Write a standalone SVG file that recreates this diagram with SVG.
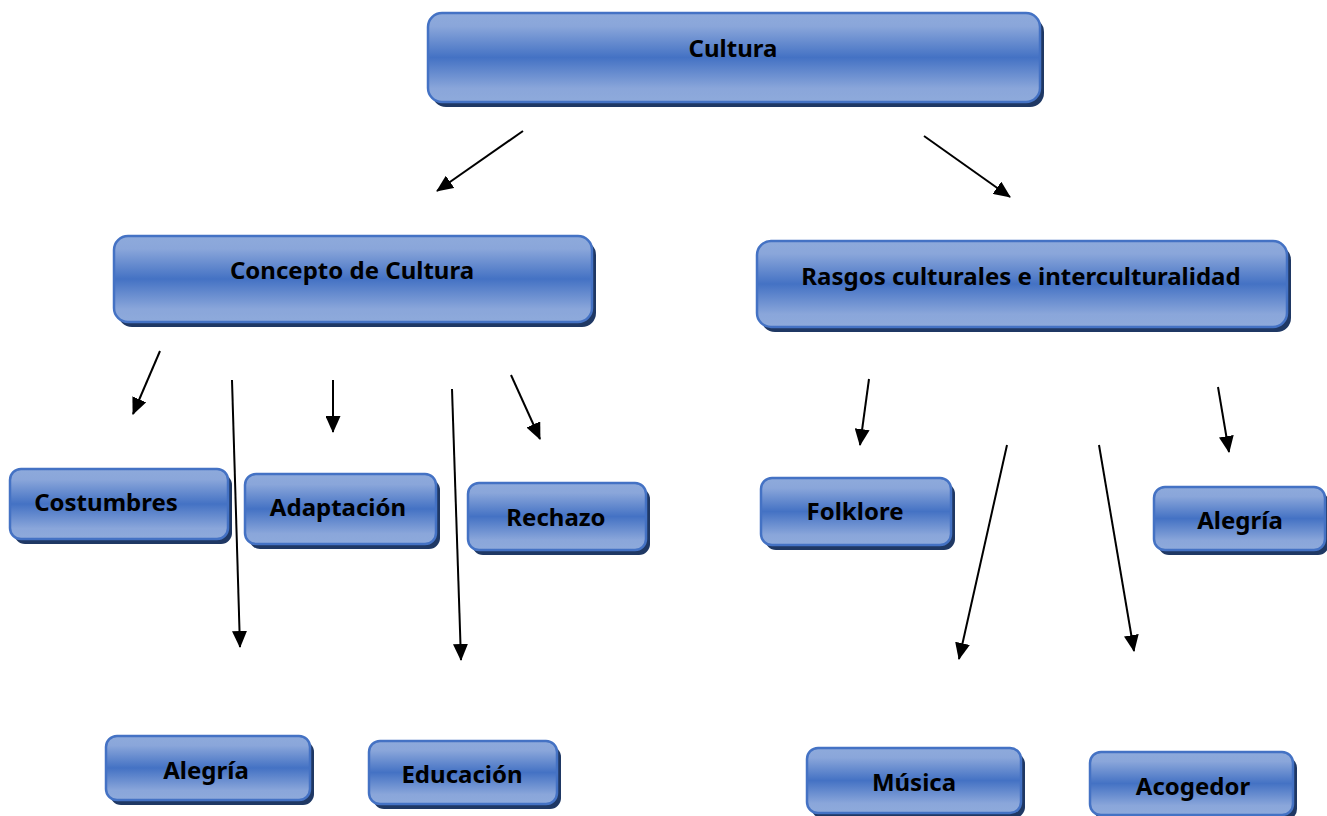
<svg xmlns="http://www.w3.org/2000/svg" width="1327" height="816" viewBox="0 0 1327 816">
<defs>
<linearGradient id="g" x1="0" y1="0" x2="0" y2="1">
<stop offset="0" stop-color="#8eaadb"/>
<stop offset="0.15" stop-color="#8aa6da"/>
<stop offset="0.5" stop-color="#4472c4"/>
<stop offset="0.85" stop-color="#8aa6da"/>
<stop offset="1" stop-color="#8eaadb"/>
</linearGradient>
<marker id="ah" markerWidth="17" markerHeight="15" refX="16" refY="7.5" orient="auto" markerUnits="userSpaceOnUse">
<path d="M0,0 L17,7.5 L0,15 Z" fill="#000"/>
</marker>
</defs>
<style>
.sh{fill:#1f3864;}
.bx{fill:url(#g);stroke:#4472c4;stroke-width:2.5;}
.t{font-family:"Noto Sans","Liberation Sans",sans-serif;font-weight:bold;font-size:24px;fill:#000;text-anchor:middle;dominant-baseline:central;}
.c{stroke:#000;stroke-width:2;fill:none;marker-end:url(#ah);}
</style>
<rect width="1327" height="816" fill="#fff"/>

<g id="cultura">
<rect class="sh" x="432" y="18" width="612" height="89" rx="14"/>
<rect class="bx" x="428" y="13" width="612" height="89" rx="14"/>
<text class="t" x="733" y="47">Cultura</text>
</g>
<g id="concepto">
<rect class="sh" x="118" y="241" width="478" height="86" rx="14"/>
<rect class="bx" x="114" y="236" width="478" height="86" rx="14"/>
<text class="t" x="352" y="269">Concepto de Cultura</text>
</g>
<g id="rasgos">
<rect class="sh" x="761" y="246" width="530" height="86" rx="14"/>
<rect class="bx" x="757" y="241" width="530" height="86" rx="14"/>
<text class="t" x="1021" y="275">Rasgos culturales e interculturalidad</text>
</g>
<g id="costumbres">
<rect class="sh" x="14" y="474" width="218" height="70" rx="11"/>
<rect class="bx" x="10" y="469" width="218" height="70" rx="11"/>
<text class="t" x="106" y="501">Costumbres</text>
</g>
<g id="adaptacion">
<rect class="sh" x="249" y="479" width="191" height="70" rx="11"/>
<rect class="bx" x="245" y="474" width="191" height="70" rx="11"/>
<text class="t" x="338" y="506">Adaptación</text>
</g>
<g id="rechazo">
<rect class="sh" x="472" y="488" width="178" height="67" rx="11"/>
<rect class="bx" x="468" y="483" width="178" height="67" rx="11"/>
<text class="t" x="556" y="516">Rechazo</text>
</g>
<g id="folklore">
<rect class="sh" x="765" y="483" width="190" height="67" rx="11"/>
<rect class="bx" x="761" y="478" width="190" height="67" rx="11"/>
<text class="t" x="855" y="510">Folklore</text>
</g>
<g id="alegria-r">
<rect class="sh" x="1158" y="492" width="171" height="63" rx="11"/>
<rect class="bx" x="1154" y="487" width="171" height="63" rx="11"/>
<text class="t" x="1240" y="519">Alegría</text>
</g>
<g id="alegria-l">
<rect class="sh" x="110" y="741" width="204" height="64" rx="11"/>
<rect class="bx" x="106" y="736" width="204" height="64" rx="11"/>
<text class="t" x="206" y="769">Alegría</text>
</g>
<g id="educacion">
<rect class="sh" x="373" y="746" width="188" height="63" rx="11"/>
<rect class="bx" x="369" y="741" width="188" height="63" rx="11"/>
<text class="t" x="462" y="773">Educación</text>
</g>
<g id="musica">
<rect class="sh" x="811" y="753" width="214" height="65" rx="11"/>
<rect class="bx" x="807" y="748" width="214" height="65" rx="11"/>
<text class="t" x="914" y="781">Música</text>
</g>
<g id="acogedor">
<rect class="sh" x="1094" y="757" width="203" height="63" rx="11"/>
<rect class="bx" x="1090" y="752" width="203" height="63" rx="11"/>
<text class="t" x="1193" y="785">Acogedor</text>
</g>

<g id="connectors">
<line class="c" x1="523" y1="131" x2="437" y2="191"/>
<line class="c" x1="924" y1="136" x2="1010" y2="197"/>
<line class="c" x1="160" y1="351" x2="133" y2="414"/>
<line class="c" x1="232" y1="380" x2="240" y2="647"/>
<line class="c" x1="333" y1="380" x2="333" y2="432"/>
<line class="c" x1="452" y1="389" x2="461" y2="660"/>
<line class="c" x1="511" y1="375" x2="540" y2="439"/>
<line class="c" x1="869" y1="379" x2="860" y2="445"/>
<line class="c" x1="1218" y1="387" x2="1229" y2="452"/>
<line class="c" x1="1007" y1="445" x2="959" y2="659"/>
<line class="c" x1="1099" y1="445" x2="1134" y2="651"/>
</g>
</svg>
